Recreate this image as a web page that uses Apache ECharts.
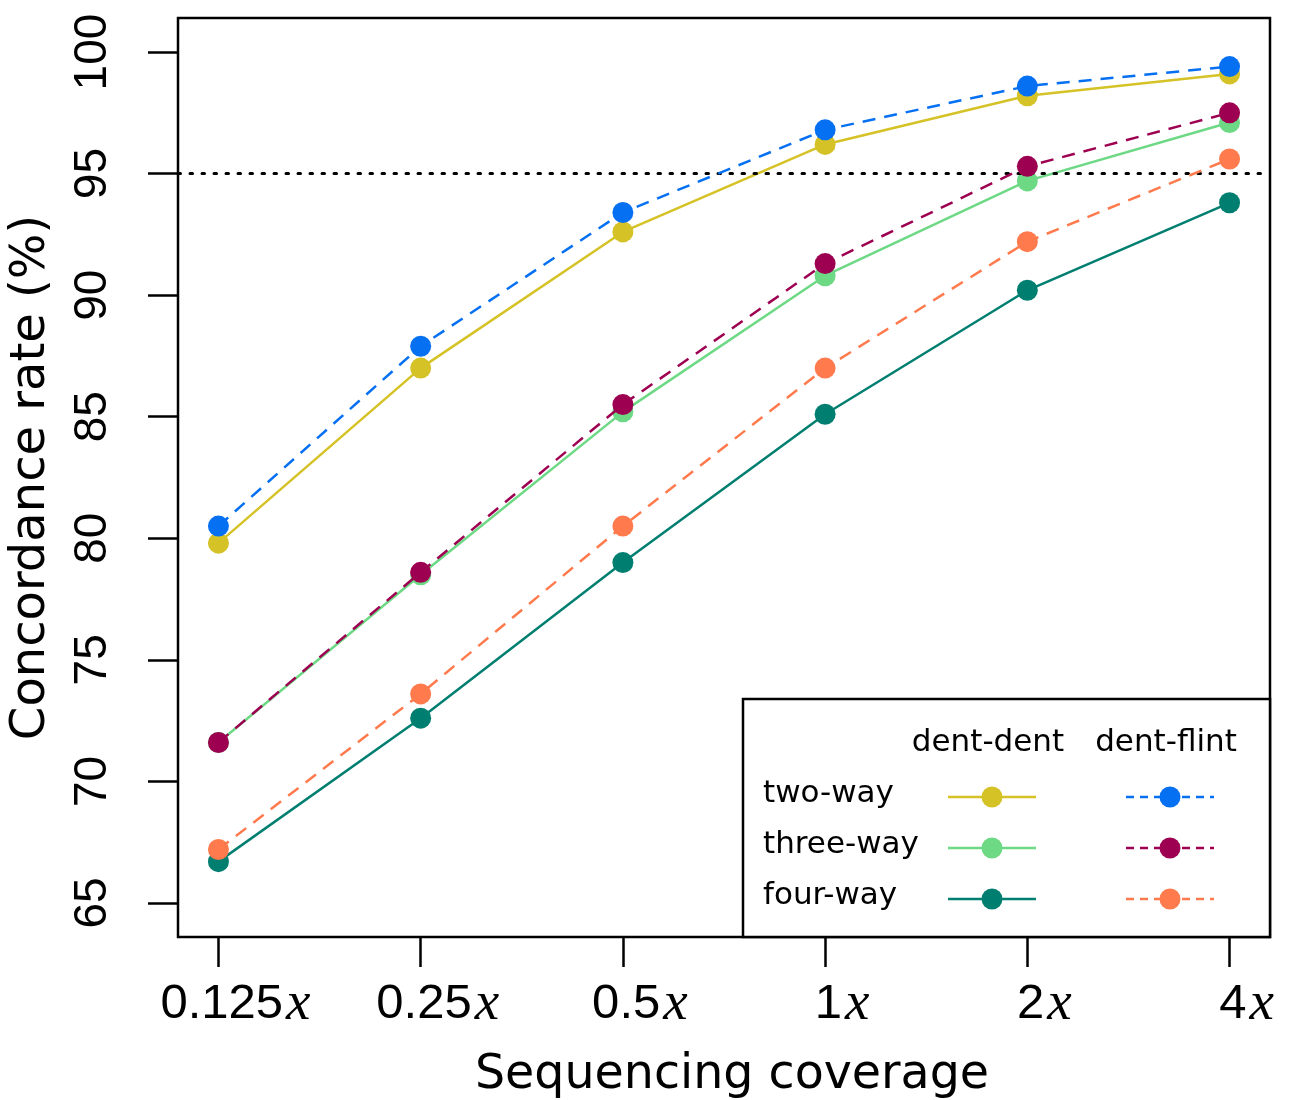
<!DOCTYPE html>
<html>
<head>
<meta charset="utf-8">
<script src="https://cdn.jsdelivr.net/npm/echarts@6/dist/echarts.min.js"></script>
<style>
  html, body { margin: 0; padding: 0; background: #fff; }
  #chart { width: 1292px; height: 1100px; }
</style>
</head>
<body>
<div id="chart"></div>
<script>
// ---- data ----
const coverageLabels = ['0.125', '0.25', '0.5', '1', '2', '4'];
const xIndex = [0, 1, 2, 3, 4, 5];
const yTicks = [65, 70, 75, 80, 85, 90, 95, 100];
const threshold = 95;

const twoWayDentDent   = [79.8, 87.0, 92.6, 96.2, 98.2, 99.1];
const twoWayDentFlint  = [80.5, 87.9, 93.4, 96.8, 98.6, 99.4];
const threeWayDentDent = [71.6, 78.5, 85.2, 90.8, 94.7, 97.1];
const threeWayDentFlint= [71.6, 78.6, 85.5, 91.3, 95.3, 97.5];
const fourWayDentDent  = [66.7, 72.6, 79.0, 85.1, 90.2, 93.8];
const fourWayDentFlint = [67.2, 73.6, 80.5, 87.0, 92.2, 95.6];

const rowNames = ['two-way', 'three-way', 'four-way'];
const colNames = ['dent-dent', 'dent-flint'];

// ---- styling ----
const colors = {
  twoDD: '#D5C226', twoDF: '#0670F2',
  threeDD: '#6DD985', threeDF: '#9E0051',
  fourDD: '#007F71', fourDF: '#FF7A4C'
};
const dashPattern = [13, 9];

function pairs(vals) { return vals.map((v, i) => [xIndex[i], v]); }

const seriesDefs = [
  { name: 'two-way dent-dent', data: twoWayDentDent, color: colors.twoDD, dashed: false },
  { name: 'three-way dent-dent', data: threeWayDentDent, color: colors.threeDD, dashed: false },
  { name: 'four-way dent-dent', data: fourWayDentDent, color: colors.fourDD, dashed: false },
  { name: 'two-way dent-flint', data: twoWayDentFlint, color: colors.twoDF, dashed: true },
  { name: 'three-way dent-flint', data: threeWayDentFlint, color: colors.threeDF, dashed: true },
  { name: 'four-way dent-flint', data: fourWayDentFlint, color: colors.fourDF, dashed: true }
];

const series = seriesDefs.map((s, i) => ({
  name: s.name,
  type: 'line',
  data: pairs(s.data),
  symbol: 'circle',
  symbolSize: 21,
  z: 2 + i,
  itemStyle: { color: s.color, borderWidth: 0 },
  lineStyle: { color: s.color, width: 2.5, type: s.dashed ? dashPattern : 'solid' },
  animation: false,
  silent: true
}));

series[0].markLine = {
  silent: true,
  symbol: ['none', 'none'],
  label: { show: false },
  lineStyle: { color: '#000', width: 3, type: [2.5, 9.5], cap: 'round' },
  data: [{ yAxis: threshold }],
  animation: false
};

// ---- legend (graphic) ----
const LX = 743, LY = 699, LW = 527, LH = 238;
const colX = [992, 1170];
const rowY = [797, 848, 899];
const legendColors = [
  [colors.twoDD, colors.twoDF],
  [colors.threeDD, colors.threeDF],
  [colors.fourDD, colors.fourDF]
];
const gfx = [];
gfx.push({
  type: 'rect', shape: { x: LX, y: LY, width: LW, height: LH }, z: 100,
  style: { fill: '#fff', stroke: '#000', lineWidth: 2.5 }
});
colNames.forEach((c, j) => {
  gfx.push({
    type: 'text', x: colX[j] - 4, y: 743, z: 101,
    style: { text: c, font: '31px "DejaVu Sans"', fill: '#000', align: 'center', verticalAlign: 'middle' }
  });
});
rowNames.forEach((r, i) => {
  gfx.push({
    type: 'text', x: 763, y: rowY[i] - 3, z: 101,
    style: { text: r, font: '31px "DejaVu Sans"', fill: '#000', align: 'left', verticalAlign: 'middle' }
  });
  [0, 1].forEach(j => {
    gfx.push({
      type: 'line', z: 101,
      shape: { x1: colX[j] - 44, y1: rowY[i], x2: colX[j] + 44, y2: rowY[i] },
      style: { stroke: legendColors[i][j], lineWidth: 2.5, lineDash: j === 1 ? [8, 6] : null }
    });
    gfx.push({
      type: 'circle', z: 102,
      shape: { cx: colX[j], cy: rowY[i], r: 10.5 },
      style: { fill: legendColors[i][j] }
    });
  });
});

const chart = echarts.init(document.getElementById('chart'), null, { renderer: 'canvas' });
chart.setOption({
  backgroundColor: '#fff',
  animation: false,
  grid: {
    left: 178, right: 22, top: 18, bottom: 163,
    containLabel: false, outerBoundsMode: 'none',
    show: true, borderColor: '#000', borderWidth: 2.5, backgroundColor: 'transparent'
  },
  xAxis: {
    type: 'value', min: -0.2, max: 5.2,
    name: 'Sequencing coverage', nameLocation: 'middle', nameGap: 115,
    nameTextStyle: { fontFamily: 'DejaVu Sans', fontSize: 47.5, color: '#000', padding: [0, 0, 0, 16] },
    axisLine: { show: false, onZero: false },
    splitLine: { show: false },
    axisTick: { show: true, length: 30, customValues: xIndex, lineStyle: { color: '#000', width: 2.5 } },
    axisLabel: {
      customValues: xIndex, margin: 40, padding: [0, 0, 0, 34],
      formatter: v => '{n|' + coverageLabels[Math.round(v)] + '}{x|x}',
      rich: {
        n: { fontFamily: 'Liberation Sans', fontSize: 49, color: '#000' },
        x: { fontFamily: 'Liberation Serif', fontStyle: 'italic', fontSize: 55, color: '#000', padding: [0, 0, 0, 3] }
      }
    }
  },
  yAxis: {
    type: 'value', min: 63.6, max: 101.4,
    name: 'Concordance rate (%)', nameLocation: 'middle', nameGap: 122,
    nameTextStyle: { fontFamily: 'DejaVu Sans', fontSize: 48, color: '#000' },
    axisLine: { show: false, onZero: false },
    splitLine: { show: false },
    axisTick: { show: true, length: 30, customValues: yTicks, lineStyle: { color: '#000', width: 2.5 } },
    axisLabel: {
      customValues: yTicks, rotate: 90, margin: 62,
      fontFamily: 'Liberation Sans', fontSize: 46, color: '#000'
    }
  },
  series: series,
  graphic: gfx
});
</script>
</body>
</html>
